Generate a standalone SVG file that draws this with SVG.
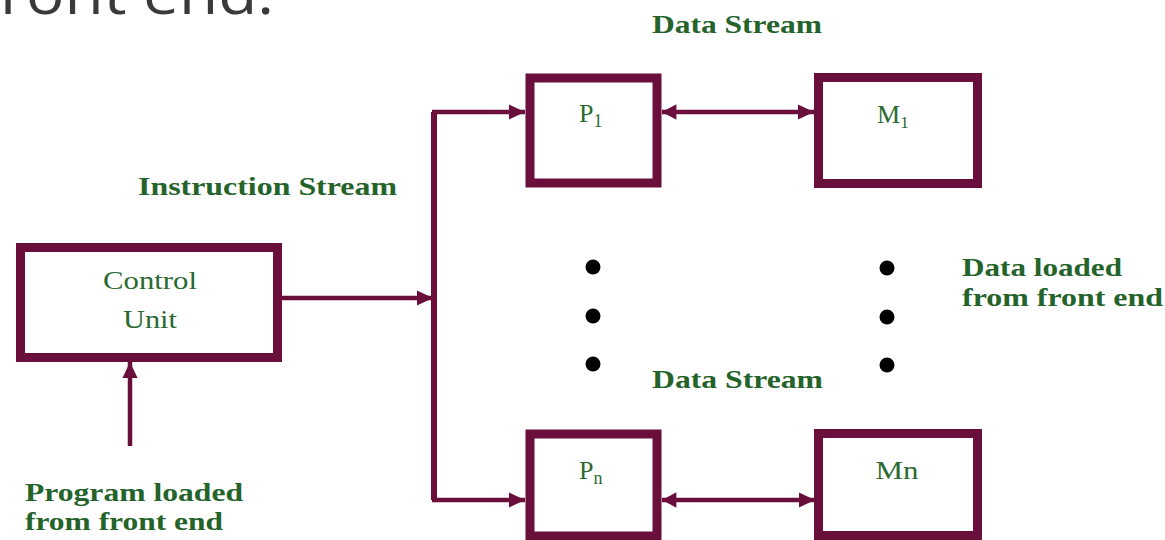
<svg xmlns="http://www.w3.org/2000/svg" width="1165" height="540" viewBox="0 0 1165 540">
<style>
.box{fill:#fff;stroke:#6a0f3c;stroke-width:9}
.conn{stroke:#6a0f3c;stroke-width:4.5;fill:none}
.bus{stroke:#6a0f3c;stroke-width:6;fill:none}
.lbl{font-family:"Liberation Serif",serif;font-weight:bold;fill:#24632a;font-size:26px}
.nt{font-family:"Liberation Serif",serif;fill:#2a6a30;font-size:26px}
.dot{fill:#000}
</style>
<defs>
<marker id="ah" markerWidth="4" markerHeight="4" refX="3.6" refY="2" orient="auto" markerUnits="strokeWidth">
<path d="M0,0.3 L3.6,2 L0,3.7 z" fill="#6a0f3c"/>
</marker>
<marker id="ahs" markerWidth="4" markerHeight="4" refX="0.4" refY="2" orient="auto" markerUnits="strokeWidth">
<path d="M3.6,0.3 L0.4,2 L3.6,3.7 z" fill="#6a0f3c"/>
</marker>
</defs>
<rect width="1165" height="540" fill="#fff"/>
<text x="0" y="14" font-family="'Open Sans',sans-serif" font-size="56" fill="#3a3a3a" textLength="274" lengthAdjust="spacingAndGlyphs">ront end:</text>

<g id="connectors">
<line class="conn" x1="282" y1="298" x2="433" y2="298" marker-end="url(#ah)"/>
<polyline class="bus" points="434,112 434,500"/>
<line class="conn" x1="432" y1="112" x2="525" y2="112" marker-end="url(#ah)"/>
<line class="conn" x1="432" y1="500" x2="525" y2="500" marker-end="url(#ah)"/>
<line class="conn" x1="662" y1="112" x2="814" y2="112" marker-start="url(#ahs)" marker-end="url(#ah)"/>
<line class="conn" x1="662" y1="500" x2="815" y2="500" marker-start="url(#ahs)" marker-end="url(#ah)"/>
<line class="conn" x1="130" y1="446" x2="130" y2="362" stroke-width="6" marker-end="url(#ah)"/>
</g>

<g id="control-unit">
<rect class="box" x="20.5" y="247.5" width="257" height="110"/>
<text class="nt" x="150" y="289" text-anchor="middle" textLength="94" lengthAdjust="spacingAndGlyphs">Control</text>
<text class="nt" x="150" y="328" text-anchor="middle" textLength="54" lengthAdjust="spacingAndGlyphs">Unit</text>
</g>

<g id="p1">
<rect class="box" x="530" y="78" width="127" height="105"/>
<text class="nt" x="579" y="122" font-size="30">P<tspan font-size="18" dy="5">1</tspan></text>
</g>

<g id="m1">
<rect class="box" x="818.5" y="77.5" width="159" height="106"/>
<text class="nt" x="877" y="123" font-size="28">M<tspan font-size="17" dy="5">1</tspan></text>
</g>

<g id="pn">
<rect class="box" x="530" y="434" width="127" height="102"/>
<text class="nt" x="579" y="479" font-size="30">P<tspan font-size="18" dy="5">n</tspan></text>
</g>

<g id="mn">
<rect class="box" x="818.5" y="433.5" width="159" height="102"/>
<text class="nt" x="897" y="479" font-size="28" text-anchor="middle" textLength="43" lengthAdjust="spacingAndGlyphs">Mn</text>
</g>

<g id="dots">
<circle class="dot" cx="593" cy="267" r="7.5"/>
<circle class="dot" cx="593" cy="316" r="7.5"/>
<circle class="dot" cx="593" cy="364" r="7.5"/>
<circle class="dot" cx="887" cy="268" r="7.5"/>
<circle class="dot" cx="887" cy="317" r="7.5"/>
<circle class="dot" cx="887" cy="365" r="7.5"/>
</g>

<g id="labels">
<text class="lbl" x="652" y="33" textLength="170" lengthAdjust="spacingAndGlyphs">Data Stream</text>
<text class="lbl" x="652" y="388" textLength="171" lengthAdjust="spacingAndGlyphs">Data Stream</text>
<text class="lbl" x="138" y="195" textLength="259" lengthAdjust="spacingAndGlyphs">Instruction Stream</text>
<text class="lbl" x="962" y="276" textLength="160" lengthAdjust="spacingAndGlyphs">Data loaded</text>
<text class="lbl" x="962" y="306" textLength="201" lengthAdjust="spacingAndGlyphs">from front end</text>
<text class="lbl" x="25" y="501" textLength="218" lengthAdjust="spacingAndGlyphs">Program loaded</text>
<text class="lbl" x="25" y="530" textLength="198" lengthAdjust="spacingAndGlyphs">from front end</text>
</g>
</svg>
